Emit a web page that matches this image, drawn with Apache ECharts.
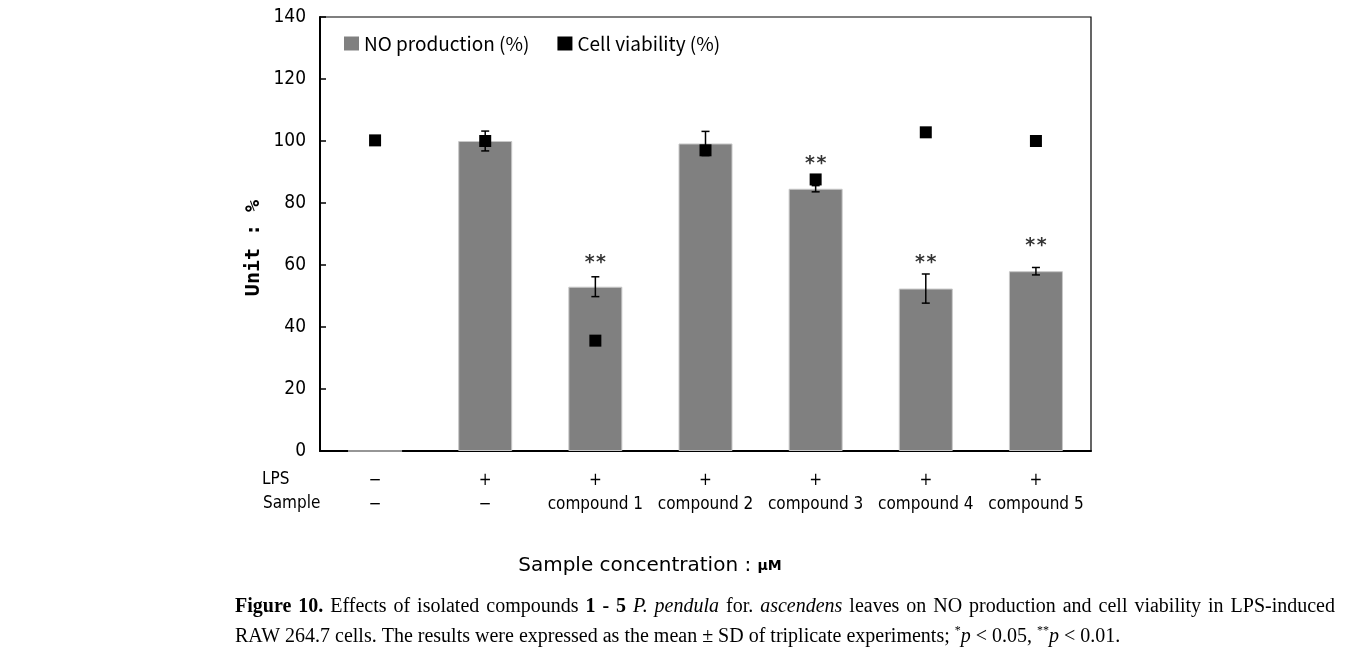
<!DOCTYPE html>
<html><head><meta charset="utf-8">
<script src="https://cdn.jsdelivr.net/npm/echarts@6/dist/echarts.min.js"></script>
<style>html,body{margin:0;padding:0;background:#fff}#c{width:1351px;height:668px}</style>
</head><body><div id="c"></div>
<script>
const categories = ['ctrl','LPS','c1','c2','c3','c4','c5'];
const lpsRow = ['−','+','+','+','+','+','+'];
const sampleRow = ['−','−','compound 1','compound 2','compound 3','compound 4','compound 5'];
const noProduction = [0, 100, 53, 99.2, 84.6, 52.4, 58];
const noSD = [0, 3.2, 3.2, 3.9, 1.0, 4.7, 1.2];
const cellViability = [100.2, 100, 35.6, 97, 87.6, 102.8, 100];
const sigLabels = ['', '', '**', '', '**', '**', '**'];
const sigPos = [null, null, 60.5, null, 92.5, 60.5, 66];
const yMin = 0, yMax = 140, yStep = 20;

const narrow = '"Liberation Sans Narrow","DejaVu Sans Condensed","Liberation Sans",sans-serif';
const serif = '"Liberation Serif",serif';

// justified first caption line: [text, style]
const captionWords = [
  ['Figure','b'],['10.','b'],['Effects','n'],['of','n'],['isolated','n'],['compounds','n'],['1','b'],['-','b'],['5','b'],
  ['P.','i'],['pendula','i'],['for.','n'],['ascendens','i'],['leaves','n'],['on','n'],['NO','n'],['production','n'],
  ['and','n'],['cell','n'],['viability','n'],['in','n'],['LPS-induced','n']
];
const capSize = 20, capLeft = 235, capRight = 1335;
const ctx = document.createElement('canvas').getContext('2d');
function fontFor(s){ return (s==='b'?'bold ':s==='i'?'italic ':'') + capSize + 'px ' + serif; }
const widths = captionWords.map(([w,s]) => { ctx.font = fontFor(s); return ctx.measureText(w).width; });
const totalW = widths.reduce((a,b)=>a+b,0);
const gap = (capRight - capLeft - totalW) / (captionWords.length - 1);
let cx = capLeft;
const captionEls = captionWords.map(([w,s],k) => {
  const el = {type:'text', x: cx, y: 607, style: {text: w, fontSize: capSize, fill:'#000', fontFamily: serif,
    fontWeight: s==='b'?'bold':'normal', fontStyle: s==='i'?'italic':'normal', verticalAlign:'middle'}};
  cx += widths[k] + gap;
  return el;
});

const sigFont = {fontSize: 19, fontWeight: 'bold', color: '#000', fontFamily: '"DejaVu Sans Mono",monospace'};

const chart = echarts.init(document.getElementById('c'));
chart.setOption({
  animation: false,
  grid: {left: 320, right: 260, top: 17, bottom: 217, show: true, borderColor: '#000', borderWidth: 1.2},
  legend: {
    left: 339, top: 29, itemGap: 28, itemWidth: 15, itemHeight: 14,
    textStyle: {fontSize: 19, color: '#000', fontFamily: '"Noto Sans CJK KR","Noto Sans",sans-serif'},
    data: [{name: 'NO production (%)', icon: 'rect', itemStyle: {color: '#808080', borderWidth: 0}},
           {name: 'Cell viability (%)', icon: 'rect', itemStyle: {color: '#000'}}]
  },
  xAxis: {
    type: 'category', data: categories,
    axisLine: {lineStyle: {color: '#000', width: 2}},
    axisTick: {inside: true, length: 5, lineStyle: {color: '#000', width: 1.5}},
    axisLabel: {
      margin: 18,
      formatter: (v, i) => `{a|${lpsRow[i]}}\n{b|${sampleRow[i]}}`,
      rich: {
        a: {fontSize: 17, lineHeight: 24, color: '#000', fontFamily: narrow},
        b: {fontSize: 17, lineHeight: 24, color: '#000', fontFamily: narrow}
      }
    }
  },
  yAxis: {
    type: 'value', min: yMin, max: yMax, interval: yStep,
    splitLine: {show: false},
    axisLine: {show: true, lineStyle: {color: '#000', width: 2}},
    axisTick: {show: true, inside: true, length: 6, lineStyle: {color: '#000', width: 1.5}},
    axisLabel: {fontSize: 19, color: '#000', margin: 14, fontFamily: narrow}
  },
  series: [
    {
      name: 'NO production (%)', type: 'bar', data: noProduction, barWidth: 54,
      itemStyle: {color: '#808080', borderColor: '#c8c8c8', borderWidth: 1}, z: 2
    },
    {
      name: 'errors', type: 'custom', z: 3,
      data: noProduction.map((v, i) => [i, v, noSD[i]]),
      renderItem: (params, api) => {
        const i = api.value(0), v = api.value(1), sd = api.value(2);
        if (!sd) return null;
        const top = api.coord([i, v + sd]), bot = api.coord([i, v - sd]);
        const cap = 4;
        return {type: 'group', children: [
          {type: 'line', shape: {x1: top[0], y1: top[1], x2: bot[0], y2: bot[1]}, style: {stroke: '#000', lineWidth: 1.5}},
          {type: 'line', shape: {x1: top[0]-cap, y1: top[1], x2: top[0]+cap, y2: top[1]}, style: {stroke: '#000', lineWidth: 1.5}},
          {type: 'line', shape: {x1: bot[0]-cap, y1: bot[1], x2: bot[0]+cap, y2: bot[1]}, style: {stroke: '#000', lineWidth: 1.5}}
        ]};
      }
    },
    {
      name: 'Cell viability (%)', type: 'scatter', data: cellViability, symbol: 'rect', symbolSize: 12,
      itemStyle: {color: '#000', opacity: 1}, z: 5
    },
    {
      name: 'sig', type: 'scatter', z: 6, symbolSize: 0,
      data: sigPos.map((v, i) => v == null ? null : {value: [i, v], label: Object.assign({show: true, formatter: sigLabels[i]}, sigFont)}),
      label: Object.assign({show: true, position: 'inside'}, sigFont)
    }
  ],
  graphic: [
    {type: 'text', left: 262, top: 471, style: {text: 'LPS', fontSize: 17, fill: '#000', fontFamily: narrow}},
    {type: 'text', left: 263, top: 495, style: {text: 'Sample', fontSize: 17, fill: '#000', fontFamily: narrow}},
    {type: 'text', x: 254, y: 248, rotation: Math.PI/2, style: {text: 'Unit : %', fontSize: 20, fontWeight: 'bold', fill: '#000', fontFamily: '"DejaVu Sans Mono",monospace', align: 'center', verticalAlign: 'middle'}},
    {type: 'text', x: 650, y: 566, style: {
      text: '{a|Sample concentration : }{b|μM}', align: 'center', verticalAlign: 'middle',
      rich: {a: {fontSize: 20, fill: '#000', fontFamily: '"DejaVu Sans",sans-serif', fontWeight: 'normal'}, b: {fontSize: 14, fill: '#000', fontFamily: '"DejaVu Sans",sans-serif', fontWeight: 'bold'}}
    }},
    ...captionEls,
    {type: 'text', x: 235, y: 637, style: {
      text: '{n|RAW 264.7 cells. The results were expressed as the mean ± SD of triplicate experiments; }{s|*}{i|p}{n| < 0.05, }{s|**}{i|p}{n| < 0.01.}',
      verticalAlign: 'middle',
      rich: {
        n: {fontSize: 20, fill: '#000', fontFamily: serif},
        i: {fontSize: 20, fontStyle: 'italic', fill: '#000', fontFamily: serif},
        s: {fontSize: 12, fill: '#000', fontFamily: serif, verticalAlign: 'top', lineHeight: 24}
      }
    }}
  ]
});
</script></body></html>
